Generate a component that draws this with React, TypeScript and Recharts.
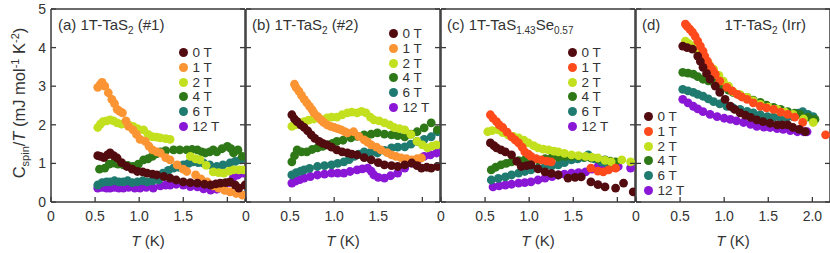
import React from "react";
import { ScatterChart, Scatter, XAxis, YAxis, Legend } from "recharts";

// field labels + colours
const FIELDS = ["0 T", "1 T", "2 T", "4 T", "6 T", "12 T"];
const COLORS_AB = ["#520c10", "#fb9432", "#c3e01f", "#2f7817", "#1f7a70", "#8a17d6"];
const COLORS_CD = ["#520c10", "#ff4a1c", "#c3e01f", "#2f7817", "#1f7a70", "#8a17d6"];

const X_TICKS = [0, 0.5, 1, 1.5, 2];
const Y_TICKS = [0, 1, 2, 3, 4, 5];

// (a) 1T-TaS2 (#1)  [T (K), C/T]
const a0 = [[0.53,1.2],[0.56,1.18],[0.6,1.15],[0.64,1.22],[0.67,1.27],[0.71,1.2],[0.75,1.14],[0.8,1.02],[0.86,0.92],[0.92,0.85],[0.98,0.79],[1.04,0.78],[1.09,0.75],[1.15,0.72],[1.2,0.7],[1.28,0.66],[1.35,0.62],[1.42,0.57],[1.5,0.52],[1.58,0.5],[1.66,0.49],[1.74,0.46],[1.81,0.44],[1.87,0.47],[1.92,0.49],[1.98,0.5],[2.03,0.52],[2.09,0.44],[2.13,0.36],[2.2,0.44]];
const a1 = [[0.53,2.97],[0.56,3.05],[0.58,3.1],[0.61,3.0],[0.65,2.83],[0.69,2.66],[0.72,2.55],[0.75,2.4],[0.78,2.35],[0.81,2.31],[0.85,2.1],[0.88,1.96],[0.93,1.87],[0.97,1.75],[1.01,1.62],[1.07,1.57],[1.11,1.45],[1.15,1.35],[1.2,1.3],[1.24,1.27],[1.3,1.15],[1.35,1.09],[1.43,0.96],[1.5,0.85],[1.54,0.79],[1.64,0.7],[1.7,0.6],[1.77,0.52],[1.84,0.42],[1.9,0.36],[1.97,0.3],[2.03,0.26],[2.1,0.22],[2.17,0.18]];
const a2 = [[0.53,1.93],[0.56,2.02],[0.59,2.08],[0.63,2.1],[0.67,2.13],[0.71,2.1],[0.75,2.05],[0.8,2.02],[0.84,2.05],[0.88,2.0],[0.93,1.96],[0.98,1.9],[1.05,1.87],[1.1,1.75],[1.15,1.69],[1.2,1.68],[1.24,1.66],[1.3,1.64],[1.35,1.62],[1.58,1.18],[1.64,1.12],[1.69,1.09],[1.76,0.95],[1.84,0.78],[1.9,0.76],[1.96,0.75],[2.02,0.8],[2.07,0.83],[2.13,0.83],[2.18,0.83]];
const a4 = [[0.55,0.85],[0.61,0.88],[0.66,0.98],[0.71,1.01],[0.76,0.98],[0.82,0.96],[0.87,0.95],[0.93,0.92],[0.99,0.98],[1.05,1.09],[1.1,1.12],[1.15,1.18],[1.2,1.25],[1.24,1.3],[1.3,1.33],[1.39,1.35],[1.46,1.35],[1.54,1.35],[1.6,1.36],[1.66,1.35],[1.71,1.3],[1.75,1.27],[1.8,1.3],[1.84,1.35],[1.88,1.3],[1.94,1.38],[2.0,1.44],[2.04,1.38],[2.07,1.27],[2.12,1.35],[2.17,1.18]];
const a6 = [[0.53,0.44],[0.58,0.5],[0.63,0.52],[0.67,0.52],[0.72,0.55],[0.77,0.52],[0.82,0.52],[0.87,0.55],[0.92,0.5],[0.98,0.52],[1.04,0.55],[1.09,0.52],[1.15,0.55],[1.22,0.57],[1.27,0.75],[1.33,0.82],[1.39,0.88],[1.45,0.9],[1.5,0.96],[1.56,1.0],[1.61,1.04],[1.67,1.02],[1.73,1.01],[1.8,0.96],[1.88,0.92],[1.95,0.96],[2.03,1.01],[2.09,1.05],[2.15,1.09]];
const a12 = [[0.53,0.36],[0.58,0.38],[0.63,0.36],[0.67,0.36],[0.72,0.38],[0.77,0.36],[0.82,0.36],[0.88,0.38],[0.95,0.36],[1.01,0.36],[1.08,0.38],[1.16,0.36],[1.24,0.42],[1.3,0.44],[1.35,0.44],[1.42,0.46],[1.5,0.44],[1.58,0.4],[1.66,0.39],[1.73,0.34],[1.81,0.31],[1.88,0.33],[1.96,0.36],[2.02,0.5],[2.07,0.65],[2.12,0.7],[2.18,0.75]];

// (b) 1T-TaS2 (#2)
const b0 = [[0.52,2.26],[0.55,2.15],[0.58,2.08],[0.62,2.0],[0.66,1.93],[0.7,1.84],[0.74,1.74],[0.78,1.65],[0.83,1.57],[0.87,1.52],[0.92,1.48],[0.97,1.42],[1.03,1.35],[1.09,1.3],[1.15,1.27],[1.2,1.24],[1.26,1.22],[1.34,1.15],[1.42,1.09],[1.5,1.02],[1.57,0.96],[1.65,0.94],[1.72,0.92],[1.8,0.96],[1.88,1.01],[1.94,0.94],[1.99,0.88],[2.05,0.9],[2.1,0.88],[2.17,0.92]];
const b1 = [[0.55,3.05],[0.57,2.96],[0.6,2.87],[0.63,2.76],[0.66,2.66],[0.69,2.57],[0.72,2.48],[0.75,2.39],[0.77,2.31],[0.81,2.22],[0.85,2.13],[0.88,2.06],[0.92,2.0],[0.96,1.96],[1.0,1.93],[1.04,1.9],[1.08,1.87],[1.12,1.82],[1.15,1.79],[1.22,1.82],[1.28,1.7],[1.34,1.61],[1.38,1.55],[1.42,1.48],[1.48,1.42],[1.53,1.35],[1.6,1.28],[1.65,1.22],[1.7,1.18],[1.76,1.14],[1.82,1.12],[1.88,1.09],[1.94,1.12],[1.99,1.14]];
const b2 = [[0.52,1.96],[0.56,2.0],[0.61,2.05],[0.66,2.08],[0.71,2.12],[0.77,2.15],[0.84,2.16],[0.92,2.18],[0.97,2.2],[1.03,2.2],[1.09,2.26],[1.15,2.31],[1.2,2.33],[1.26,2.31],[1.31,2.35],[1.36,2.31],[1.41,2.2],[1.45,2.13],[1.51,2.1],[1.57,2.05],[1.63,2.0],[1.68,1.93],[1.74,1.9],[1.8,1.87],[1.87,1.75],[1.94,1.57],[2.0,1.48],[2.06,1.4],[2.11,1.45],[2.16,1.48]];
const b4 = [[0.52,1.04],[0.55,1.2],[0.58,1.35],[0.63,1.3],[0.69,1.3],[0.75,1.36],[0.81,1.4],[0.87,1.44],[0.92,1.48],[0.98,1.52],[1.03,1.57],[1.1,1.6],[1.19,1.66],[1.26,1.7],[1.34,1.74],[1.42,1.76],[1.49,1.79],[1.57,1.76],[1.65,1.74],[1.72,1.72],[1.8,1.69],[1.87,1.76],[1.94,1.82],[2.02,1.92],[2.1,2.05],[2.17,1.87]];
const b6 = [[0.52,0.7],[0.57,0.76],[0.62,0.8],[0.66,0.83],[0.72,0.87],[0.81,0.92],[0.89,0.94],[0.97,0.96],[1.04,1.0],[1.11,1.04],[1.17,1.1],[1.23,1.18],[1.28,1.24],[1.34,1.3],[1.41,1.28],[1.49,1.27],[1.57,1.34],[1.65,1.4],[1.72,1.42],[1.8,1.43],[1.87,1.5],[1.94,1.57],[2.02,1.62],[2.1,1.69],[2.17,1.82]];
const b12 = [[0.52,0.49],[0.56,0.54],[0.61,0.58],[0.66,0.62],[0.73,0.66],[0.81,0.7],[0.89,0.72],[0.97,0.75],[1.04,0.75],[1.11,0.75],[1.18,0.79],[1.26,0.83],[1.32,0.86],[1.38,0.88],[1.42,0.8],[1.45,0.7],[1.5,0.64],[1.57,0.62],[1.64,0.68],[1.72,0.75],[1.8,0.88],[1.88,1.01],[1.95,1.1],[2.02,1.18],[2.09,1.22],[2.16,1.27]];

// (c) 1T-TaS1.43Se0.57
const c0 = [[0.56,1.53],[0.6,1.46],[0.63,1.4],[0.68,1.35],[0.73,1.3],[0.8,1.22],[0.86,1.05],[0.91,0.92],[0.97,0.94],[1.02,0.96],[1.1,0.86],[1.18,0.78],[1.25,0.74],[1.33,0.7],[1.44,0.62],[1.52,0.64],[1.59,0.65],[1.7,0.52],[1.78,0.45],[1.86,0.39],[1.98,0.36],[2.07,0.49],[2.18,0.26]];
const c1 = [[0.56,2.26],[0.59,2.17],[0.63,2.08],[0.66,2.0],[0.7,1.93],[0.75,1.81],[0.8,1.69],[0.84,1.61],[0.88,1.53],[0.92,1.42],[0.95,1.3],[0.99,1.24],[1.02,1.18],[1.08,1.12],[1.14,1.09],[1.2,1.06],[1.25,1.04],[1.7,0.88],[1.78,0.8],[1.84,0.78],[1.9,0.83],[1.98,0.88]];
const c2 = [[0.53,1.82],[0.58,1.85],[0.65,1.87],[0.7,1.8],[0.76,1.74],[0.82,1.7],[0.88,1.66],[0.94,1.6],[0.99,1.53],[1.05,1.46],[1.1,1.4],[1.16,1.37],[1.22,1.35],[1.28,1.32],[1.33,1.3],[1.4,1.26],[1.48,1.22],[1.56,1.2],[1.64,1.18],[1.71,1.16],[1.78,1.14],[1.86,1.08],[1.93,1.04],[2.05,1.09],[2.15,1.04]];
const c4 = [[0.57,0.83],[0.62,0.9],[0.68,0.96],[0.74,1.0],[0.8,1.04],[0.88,1.07],[0.95,1.09],[1.02,1.09],[1.1,1.09],[1.18,1.12],[1.25,1.14],[1.33,1.16],[1.41,1.18],[1.48,1.18],[1.56,1.18],[1.63,1.16],[1.7,1.14],[1.78,1.12],[1.86,1.09],[1.92,1.06],[1.98,1.04]];
const c6 = [[0.57,0.57],[0.65,0.61],[0.73,0.65],[0.8,0.7],[0.88,0.75],[0.95,0.79],[1.02,0.83],[1.1,0.88],[1.18,0.92],[1.26,0.94],[1.33,0.96],[1.4,1.02],[1.48,1.09],[1.55,1.12],[1.62,1.15],[1.67,1.22],[1.74,1.12],[1.82,1.04],[1.88,1.0],[1.93,0.96]];
const c12 = [[0.59,0.39],[0.66,0.42],[0.73,0.44],[0.8,0.46],[0.88,0.49],[0.95,0.5],[1.02,0.52],[1.1,0.57],[1.18,0.62],[1.26,0.66],[1.33,0.7],[1.4,0.72],[1.48,0.75],[1.56,0.76],[1.64,0.78],[1.71,0.85],[1.78,0.92],[1.84,0.94],[1.9,0.96],[1.96,0.94],[2.01,0.92],[2.15,0.88]];

// (d) 1T-TaS2 (Irr)
const d0 = [[0.53,4.04],[0.58,4.0],[0.64,3.96],[0.7,3.78],[0.73,3.64],[0.76,3.49],[0.8,3.33],[0.84,3.18],[0.9,3.0],[0.95,2.84],[1.01,2.66],[1.07,2.48],[1.12,2.4],[1.18,2.31],[1.24,2.25],[1.3,2.19],[1.37,2.13],[1.44,2.08],[1.52,2.04],[1.6,2.0],[1.66,2.0],[1.72,2.0],[1.78,1.93],[1.85,1.88],[1.92,1.82]];
const d1 = [[0.56,4.61],[0.58,4.55],[0.61,4.48],[0.64,4.4],[0.67,4.3],[0.7,4.17],[0.73,4.04],[0.76,3.91],[0.78,3.78],[0.81,3.65],[0.84,3.52],[0.87,3.42],[0.9,3.31],[0.95,3.13],[1.03,2.97],[1.09,2.88],[1.15,2.79],[1.2,2.72],[1.26,2.66],[1.33,2.57],[1.41,2.48],[1.48,2.44],[1.56,2.4],[1.64,2.33],[1.72,2.27],[1.8,2.2],[1.89,2.06],[2.15,1.74]];
const d2 = [[0.56,4.17],[0.6,4.1],[0.65,4.04],[0.7,3.92],[0.76,3.78],[0.82,3.6],[0.88,3.44],[0.94,3.28],[0.99,3.13],[1.05,3.0],[1.1,2.86],[1.18,2.78],[1.26,2.71],[1.33,2.62],[1.41,2.53],[1.5,2.46],[1.6,2.4],[1.69,2.33],[1.78,2.27],[1.9,2.15],[2.01,2.06]];
const d4 = [[0.53,3.36],[0.59,3.34],[0.65,3.31],[0.7,3.25],[0.76,3.18],[0.82,3.14],[0.88,3.1],[0.94,3.03],[0.99,2.97],[1.05,2.9],[1.1,2.84],[1.18,2.77],[1.26,2.71],[1.33,2.64],[1.41,2.58],[1.48,2.51],[1.56,2.45],[1.64,2.4],[1.72,2.34],[1.8,2.3],[1.86,2.27],[1.95,2.2],[2.03,2.14]];
const d6 = [[0.53,2.92],[0.59,2.88],[0.65,2.84],[0.7,2.79],[0.76,2.74],[0.82,2.67],[0.88,2.6],[0.95,2.54],[1.03,2.48],[1.1,2.44],[1.18,2.4],[1.26,2.35],[1.33,2.31],[1.41,2.26],[1.49,2.21],[1.56,2.2],[1.64,2.19],[1.71,2.2],[1.78,2.21],[1.84,2.3],[1.89,2.34],[1.95,2.27],[2.01,2.21]];
const d12 = [[0.53,2.66],[0.59,2.57],[0.65,2.48],[0.7,2.41],[0.76,2.34],[0.84,2.27],[0.92,2.21],[1.0,2.17],[1.07,2.14],[1.14,2.1],[1.22,2.06],[1.3,2.01],[1.37,1.96],[1.45,1.94],[1.52,1.93],[1.6,1.9],[1.67,1.88],[1.75,1.85],[1.83,1.82],[1.9,1.82],[1.94,1.82]];

const FONT = "'Liberation Sans', Arial, sans-serif";
const FRAME = "#3a3a3a";
const TXT = "#333";
const TOP = 9;
const BOTTOM = 202;
const PW = 194;
const W = 830;
const H = 253;

const toPts = (arr: number[][]) => arr.map(([x, y]) => ({ x, y }));

const BottomTick = (props: any) => {
  const { x, y, payload, hideLast } = props;
  const v = payload.value;
  const lbl = v === 0 ? "0" : v.toFixed(1);
  return (
    <g>
      <line x1={x} y1={y} x2={x} y2={y - 5} stroke={FRAME} strokeWidth={1.3} />
      {!(hideLast && v === 2) && (
        <text x={x} y={y + 19} textAnchor="middle" fontSize={14} fontFamily={FONT} fill={TXT}>{lbl}</text>
      )}
    </g>
  );
};
const TopTick = ({ x, y }: any) => <line x1={x} y1={y} x2={x} y2={y + 5} stroke={FRAME} strokeWidth={1.3} />;
const LeftTick = (props: any) => {
  const { x, y, payload, showLabel } = props;
  return (
    <g>
      <line x1={x} y1={y} x2={x + 5} y2={y} stroke={FRAME} strokeWidth={1.3} />
      {showLabel && (
        <text x={x - 5} y={y + 5} textAnchor="end" fontSize={14} fontFamily={FONT} fill={TXT}>{payload.value}</text>
      )}
    </g>
  );
};
const RightTick = ({ x, y }: any) => <line x1={x} y1={y} x2={x - 5} y2={y} stroke={FRAME} strokeWidth={1.3} />;

const XLabel = ({ viewBox }: any) => (
  <text x={viewBox.x + viewBox.width / 2} y={246} textAnchor="middle" fontSize={15} fontFamily={FONT} fill={TXT}>
    <tspan fontStyle="italic">T</tspan> (K)
  </text>
);

const YLabel = () => (
  <text transform="translate(25,103) rotate(-90)" textAnchor="middle" fontSize={16.5} fontFamily={FONT} fill={TXT}>
    C<tspan fontSize={11} dy={4}>spin</tspan>
    <tspan dy={-4}>/</tspan>
    <tspan fontStyle="italic">T</tspan>
    <tspan> (mJ mol</tspan>
    <tspan fontSize={11} dy={-6}>-1</tspan>
    <tspan dy={6}> K</tspan>
    <tspan fontSize={11} dy={-6}>-2</tspan>
    <tspan dy={6}>)</tspan>
  </text>
);

const LegendBox = ({ colors }: { colors: string[] }) => (
  <div style={{ fontFamily: FONT, fontSize: 13.5, color: TXT }}>
    {FIELDS.map((f, i) => (
      <div key={f} style={{ display: "flex", alignItems: "center", height: 14.7 }}>
        <span style={{ width: 9, height: 9, borderRadius: "50%", background: colors[i], marginRight: 5 }} />
        <span>{f}</span>
      </div>
    ))}
  </div>
);

type PanelProps = {
  left: number;
  series: number[][][];
  colors: string[];
  title: (vb: any) => React.ReactNode;
  legendAt: [number, number];
  first?: boolean;
  hideLast?: boolean;
};

function Panel({ left, series, colors, title, legendAt, first, hideLast }: PanelProps) {
  const order = [5, 4, 3, 2, 1, 0]; // 0 T on top
  // axes are 1px thick so recharts still draws them; margins absorb that pixel
  return (
    <div style={{ position: "absolute", left: 0, top: 0 }}>
      <ScatterChart width={W} height={H}
        margin={{ top: TOP - 1, bottom: H - BOTTOM - 1, left: left - 1, right: W - left - PW - 1 }}>
        <XAxis type="number" dataKey="x" domain={[0, 2.2]} ticks={X_TICKS} interval={0} height={1}
          tickSize={0} tickMargin={0} allowDataOverflow axisLine={{ stroke: FRAME, strokeWidth: 1.5 }}
          tick={<BottomTick hideLast={hideLast} />} label={XLabel} />
        <XAxis xAxisId="top" orientation="top" type="number" domain={[0, 2.2]} ticks={X_TICKS} interval={0}
          height={1} tickSize={0} tickMargin={0} allowDataOverflow axisLine={{ stroke: FRAME, strokeWidth: 1.5 }}
          tick={<TopTick />} label={title} />
        <YAxis type="number" dataKey="y" domain={[0, 5]} ticks={Y_TICKS} interval={0} width={1}
          tickSize={0} tickMargin={0} allowDataOverflow axisLine={{ stroke: FRAME, strokeWidth: 1.5 }}
          tick={<LeftTick showLabel={first} />} label={first ? YLabel : undefined} />
        <YAxis yAxisId="r" orientation="right" type="number" domain={[0, 5]} ticks={Y_TICKS} interval={0} width={1}
          tickSize={0} tickMargin={0} allowDataOverflow axisLine={{ stroke: FRAME, strokeWidth: 1.5 }}
          tick={<RightTick />} />
        <Legend verticalAlign="middle" layout="horizontal" align="center"
          wrapperStyle={{ left: legendAt[0], top: legendAt[1], width: "auto" }}
          content={() => <LegendBox colors={colors} />} />
        {order.map((i) => (
          <Scatter key={FIELDS[i]} name={FIELDS[i]} data={toPts(series[i])} isAnimationActive={false}
            shape={(p: any) => <circle cx={p.cx} cy={p.cy} r={4.4} fill={colors[i]} />} />
        ))}
      </ScatterChart>
    </div>
  );
}

const Sub = ({ children }: { children: React.ReactNode }) => (
  <tspan fontSize={10} dy={4}>{children}</tspan>
);

export default function App() {
  return (
    <div style={{ position: "absolute", left: 0, top: 0, width: W, height: H, background: "#fff", overflow: "hidden" }}>
      <Panel left={51} first hideLast series={[a0, a1, a2, a4, a6, a12]} colors={COLORS_AB} legendAt={[178.5, 45.5]}
        title={(p: any) => (
          <text x={p.viewBox.x + 7} y={30} fontSize={15} fontFamily={FONT} fill={TXT}>
            (a) 1T-TaS<Sub>2</Sub><tspan dy={-4}> (#1)</tspan>
          </text>
        )} />
      <Panel left={246} hideLast series={[b0, b1, b2, b4, b6, b12]} colors={COLORS_AB} legendAt={[388.5, 26.5]}
        title={(p: any) => (
          <text x={p.viewBox.x + 6} y={30} fontSize={15} fontFamily={FONT} fill={TXT}>
            (b) 1T-TaS<Sub>2</Sub><tspan dy={-4}> (#2)</tspan>
          </text>
        )} />
      <Panel left={441} hideLast series={[c0, c1, c2, c4, c6, c12]} colors={COLORS_CD} legendAt={[567.5, 45.5]}
        title={(p: any) => (
          <text x={p.viewBox.x + 6} y={30} fontSize={15} fontFamily={FONT} fill={TXT}>
            (c) 1T-TaS<Sub>1.43</Sub><tspan dy={-4}>Se</tspan><Sub>0.57</Sub>
          </text>
        )} />
      <Panel left={636} series={[d0, d1, d2, d4, d6, d12]} colors={COLORS_CD} legendAt={[643.5, 109.5]}
        title={(p: any) => (
          <g>
            <text x={p.viewBox.x + 6} y={30} fontSize={15} fontFamily={FONT} fill={TXT}>(d)</text>
            <text x={p.viewBox.x + 170} y={30} textAnchor="end" fontSize={15} fontFamily={FONT} fill={TXT}>
              1T-TaS<Sub>2</Sub><tspan dy={-4}> (Irr)</tspan>
            </text>
          </g>
        )} />
    </div>
  );
}
